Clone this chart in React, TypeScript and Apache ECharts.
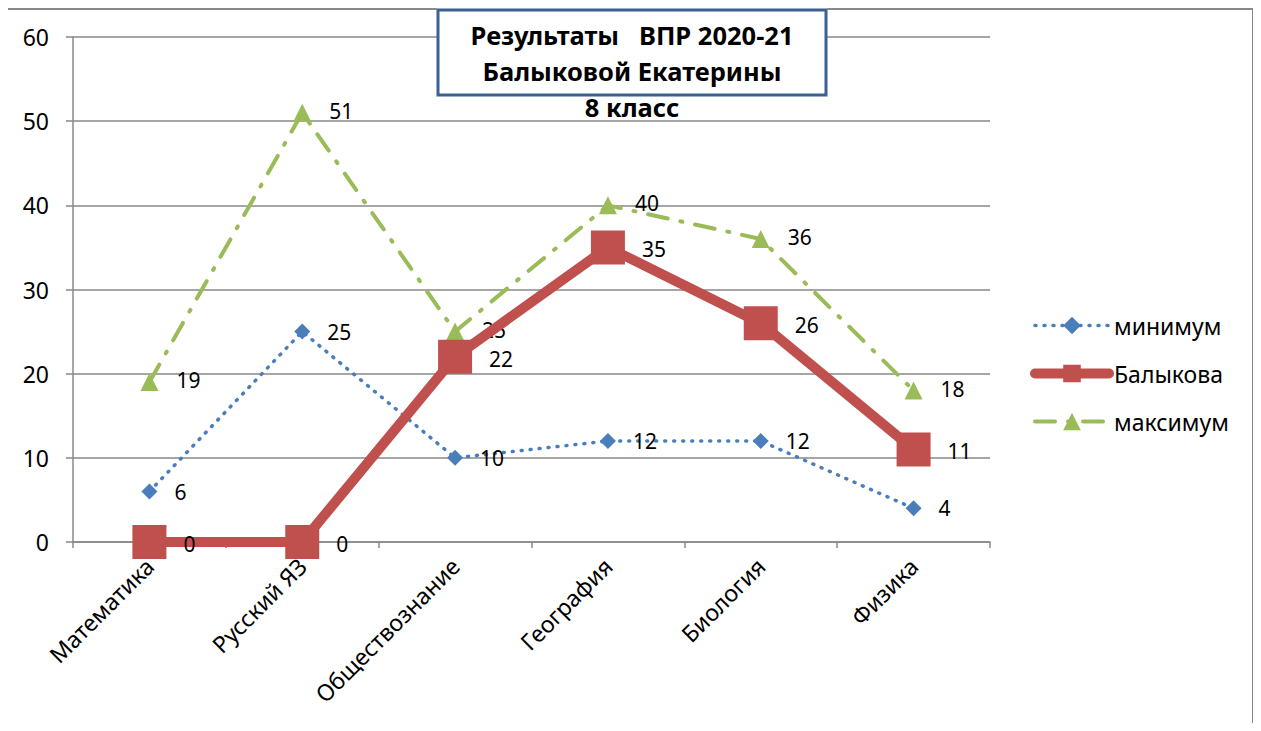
import React, { useEffect, useRef } from "react";
import * as echarts from "echarts";

const categories = ["Математика", "Русский ЯЗ", "Обществознание", "География", "Биология", "Физика"];
const minimum = [6, 25, 10, 12, 12, 4];
const balykova = [0, 0, 22, 35, 26, 11];
const maximum = [19, 51, 25, 40, 36, 18];
const yTicks = [0, 10, 20, 30, 40, 50, 60];

const FONT = "'Noto Sans', 'Open Sans', sans-serif";

export default function App() {
  const ref = useRef<HTMLDivElement>(null);
  useEffect(() => {
    if (!ref.current) return;
    const chart = echarts.init(ref.current, null, { renderer: "svg" });
    const label = (dx: number, dy: number) => ({
      show: true,
      position: "right" as const,
      offset: [dx, dy],
      color: "#000",
      fontSize: 21,
      fontFamily: FONT,
    });
    const minLine = { color: "#4a7ebb", width: 3.5, type: [1, 8], cap: "round" };
    const balLine = { color: "#c0504d", width: 10, cap: "round" };
    const maxLine = { color: "#9bbb59", width: 4, type: [20, 13, 2, 13], cap: "round" };
    chart.setOption({
      animation: false,
      backgroundColor: "transparent",
      textStyle: { fontFamily: FONT },
      grid: { left: 73, right: 271, top: 37, bottom: 189, containLabel: false },
      xAxis: {
        type: "category",
        data: categories,
        boundaryGap: true,
        axisLine: { lineStyle: { color: "#888", width: 1.5 } },
        axisTick: { show: true, length: 6, lineStyle: { color: "#888", width: 1.5 } },
        axisLabel: { rotate: 45, fontSize: 23, color: "#000", fontFamily: FONT, margin: 20 },
      },
      yAxis: {
        type: "value",
        min: yTicks[0],
        max: yTicks[yTicks.length - 1],
        interval: 10,
        axisLine: { show: true, lineStyle: { color: "#888", width: 1.5 } },
        axisTick: { show: true, length: 7, lineStyle: { color: "#888", width: 1.5 } },
        splitLine: { lineStyle: { color: "#888", width: 1.5 } },
        axisLabel: { fontSize: 23, color: "#000", fontFamily: FONT, margin: 24 },
      },
      legend: {
        orient: "vertical",
        left: 1025,
        top: 309,
        itemGap: 25,
        itemWidth: 74,
        itemHeight: 22,
        textStyle: { fontSize: 23, color: "#000", fontFamily: FONT },
        data: [
          { name: "минимум", lineStyle: minLine },
          { name: "Балыкова", lineStyle: balLine },
          { name: "максимум", lineStyle: maxLine },
        ],
      },
      series: [
        {
          name: "минимум",
          type: "line",
          data: minimum,
          z: 3,
          symbol: "diamond",
          symbolSize: 16,
          itemStyle: { color: "#4a7ebb" },
          lineStyle: minLine,
          label: label(12, 0),
        },
        {
          name: "Балыкова",
          type: "line",
          data: balykova,
          z: 4,
          symbol: "rect",
          symbolSize: 34,
          itemStyle: { color: "#c0504d" },
          lineStyle: { color: "#c0504d", width: 10 },
          label: label(12, 2),
        },
        {
          name: "максимум",
          type: "line",
          data: maximum,
          z: 2,
          symbol: "triangle",
          symbolSize: 18,
          itemStyle: { color: "#9bbb59" },
          lineStyle: maxLine,
          label: label(13, -2),
        },
      ],
      graphic: [
        {
          type: "rect",
          shape: { x: 438, y: 10, width: 388, height: 85 },
          style: { fill: "#fff", stroke: "#3b6191", lineWidth: 3 },
          z: 10,
        },
        {
          type: "text",
          x: 632,
          y: 17,
          style: {
            text: "Результаты   ВПР 2020-21\nБалыковой Екатерины\n8 класс",
            fontSize: 25.5,
            fontWeight: "bold",
            fontFamily: FONT,
            fill: "#000",
            align: "center",
            lineHeight: 36,
          },
          z: 11,
        },
      ],
    });
    return () => chart.dispose();
  }, []);
  const edge = (s: React.CSSProperties) => (
    <div style={{ position: "absolute", background: "#888", pointerEvents: "none", ...s }} />
  );
  return (
    <div style={{ position: "relative", width: 1261, height: 731, margin: -8, background: "#fff", overflow: "hidden" }}>
      <div ref={ref} style={{ position: "absolute", left: 0, top: 0, width: 1261, height: 731 }} />
      {edge({ left: 4, top: 8, width: 2, height: 723 })}
      {edge({ left: 4, top: 8, width: 433, height: 2 })}
      {edge({ left: 827, top: 8, width: 426, height: 2 })}
      {edge({ left: 1252, top: 8, width: 2, height: 723 })}
    </div>
  );
}
